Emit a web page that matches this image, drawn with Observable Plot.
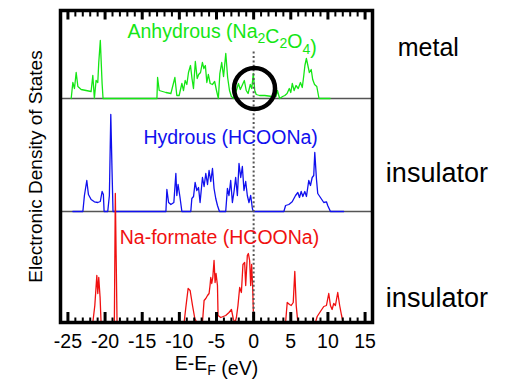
<!DOCTYPE html>
<html><head><meta charset="utf-8">
<script src="https://cdn.jsdelivr.net/npm/d3@7"></script>
<script src="https://cdn.jsdelivr.net/npm/@observablehq/plot@0.6"></script>
<style>body{margin:0;background:#fff}</style>
</head><body><div id="chart"></div>
<script>
// Energy (eV, relative to Fermi level) and DOS (arbitrary units) pairs
const anhydrousDOS = [[-24.56,0],[-24.34,16],[-24.12,10],[-23.89,26],[-23.66,12],[-23.22,9],[-22.55,8],[-21.88,7],[-21.65,23],[-21.44,0],[-21.21,18],[-20.98,16],[-20.85,36],[-20.64,58],[-20.40,15],[-20.27,0],
  [-13.02,0],[-12.93,21],[-12.71,8],[-11.81,6],[-11.14,5],[-10.60,21],[-10.34,3],[-10.03,3],[-9.66,15],[-9.44,8],[-9.22,18],[-8.99,14],[-8.77,26],[-8.50,33],[-8.30,20],[-8.10,10],[-7.85,37],[-7.60,20],[-7.40,24],[-7.15,26],[-6.90,36],[-6.70,30],[-6.50,33],[-6.30,16],[-6.10,24],[-5.85,15],[-5.55,14],[-5.25,17],[-5.00,8],[-4.75,0],[-4.55,25],[-4.30,36],[-4.05,22],[-3.75,45],[-3.50,21],[-3.25,8],[-3.00,2],[-2.65,0],
  [-2.40,6],[-2.05,15],[-1.80,9],[-1.55,13],[-1.25,18],[-1.00,8],[-0.75,5],[-0.45,14],[-0.25,10],[-0.05,25],[0.15,8],[0.35,4],[0.80,3],[1.50,3],[2.50,2],[3.00,2],[3.20,8],[3.50,0],[3.90,2],[4.20,3],[4.50,5],[4.80,10],[5.00,6],[5.20,15],[5.45,8],[5.70,13],[6.00,10],[6.30,16],[6.55,11],[6.75,23],[6.90,33],[7.10,40],[7.30,33],[7.50,26],[7.75,29],[7.95,19],[8.20,14],[8.50,12],[8.80,0],[10.30,0]];

const hydrousDOS = [[-24.34,0],[-22.99,0],[-22.78,16],[-22.46,31],[-22.24,17],[-21.88,12],[-21.44,9.7],[-20.98,9],[-20.64,10],[-20.40,20],[-20.23,17],[-20.13,0],[-19.64,0],[-19.42,16],[-19.23,97],[-19.06,40],[-18.93,0],
  [-11.81,0],[-11.68,22],[-11.45,9],[-11.14,7],[-10.74,9],[-10.47,38],[-10.34,16],[-10.17,27],[-9.93,15],[-9.66,0],[-8.46,0],[-8.32,13],[-8.09,15],[-7.88,29],[-7.65,21],[-7.42,24],[-7.21,9],[-6.89,34],[-6.67,25],[-6.44,38],[-6.21,27],[-6.00,41],[-5.77,30],[-5.54,43],[-5.33,23],[-5.10,13],[-4.87,6],[-4.60,0],
  [-3.76,0],[-3.53,23],[-3.32,16],[-3.09,31],[-2.86,9],[-2.64,20],[-2.42,34],[-2.19,16],[-1.97,48],[-1.74,34],[-1.52,45],[-1.30,21],[-1.07,30],[-0.85,16],[-0.63,9],[-0.40,16],[-0.17,3],[-0.04,0],
  [4.07,0],[4.30,6],[4.74,7],[5.19,9.7],[5.64,16],[5.95,19],[6.17,14],[6.40,20],[6.62,15],[6.89,20],[7.11,15],[7.42,31],[7.65,26],[7.88,34],[8.09,36],[8.23,59],[8.46,32],[8.63,18],[8.99,14],[9.44,9],[9.80,9.7],[9.97,6],[10.34,0],[12.12,0]];

const formateDOS = [[-22.99,0],[-21.65,0],[-21.38,17],[-21.11,47],[-20.98,29],[-20.85,45],[-20.67,25],[-20.54,0],[-18.75,0],[-18.62,129],[-18.39,0],
  [-9.36,0],[-9.13,15],[-8.82,34],[-8.55,32],[-8.23,17],[-7.92,4],[-7.65,0],[-6.89,0],[-6.67,22],[-6.44,24],[-6.21,27],[-6.00,29],[-5.87,37],[-5.77,45],[-5.64,39],[-5.50,45],[-5.33,62],[-5.19,40],[-5.06,49],[-4.87,37],[-4.79,7],[-4.43,5],[-3.76,7],[-3.32,10],[-2.99,13],[-2.72,3],[-2.51,0],
  [-2.32,5],[-2.11,17],[-1.88,35],[-1.65,30],[-1.44,58],[-1.21,60],[-1.07,37],[-0.85,67],[-0.71,69],[-0.54,62],[-0.40,37],[-0.27,58],[-0.13,35],[0.00,0],
  [4.30,0],[4.52,20],[4.83,18],[5.06,17],[5.33,20],[5.54,51],[5.73,17],[5.95,0],[8.32,0],[8.55,6],[8.99,11],[9.44,16],[9.80,17],[10.11,29],[10.34,17],[10.56,13],[10.78,19],[11.01,17],[11.32,30],[11.58,17],[11.81,8],[12.04,0],[14.13,0]];

const seriesNames = ["Anhydrous (Na2C2O4)", "Hydrous (HCOONa)", "Na-formate (HCOONa)"];
const stateLabels = ["metal", "insulator", "insulator"];
const majorTicks = [-25, -20, -15, -10, -5, 0, 5, 10, 15];
const minorTicks = d3.range(-26, 17).filter(v => v % 5 !== 0);

// layout (vertical stacking offsets, label anchors) — not data
const colors = ["#14e614", "#1010ee", "#f01010"];
const offsets = [224, 111, 0];
const titleAnchor = [[-4.25, 67], [-3.1, 73.5], [-4.6, 85]];
const stateAnchor = [[19.4, 51], [17.8, 38], [17.8, 24]];
const stateSize = [25, 27, 27];

const lines = [anhydrousDOS, hydrousDOS, formateDOS].map((arr, i) =>
  Plot.line(arr, {x: d => d[0], y: d => d[1] + offsets[i], stroke: colors[i], strokeWidth: 1.3}));

const font = "'Liberation Sans', Arial, Helvetica, sans-serif";

const plot = Plot.plot({
  width: 514, height: 383,
  marginLeft: 60, marginRight: 142, marginTop: 10, marginBottom: 61,
  x: {domain: [-26, 16]},
  y: {domain: [0, 312], axis: null},
  style: {fontFamily: font, background: "white", color: "black"},
  marks: [
    Plot.ruleY([offsets[0], offsets[1]], {stroke: "#555", strokeWidth: 1.5}),
    ...lines,
    Plot.ruleX([0], {y1: 0, y2: 272, stroke: "#555", strokeWidth: 2, strokeDasharray: "2,2.4"}),
    Plot.dot([[0.12, offsets[0] + 10]], {x: d => d[0], y: d => d[1], r: 20.5, stroke: "black", strokeWidth: 4.5, fill: "none"}),
    Plot.frame({stroke: "black", strokeWidth: 3.5}),
    Plot.ruleX(majorTicks, {x: d => d, insetTop: 302, stroke: "black", strokeWidth: 3}),
    Plot.ruleX(minorTicks, {x: d => d, insetTop: 307.5, stroke: "black", strokeWidth: 2}),
    Plot.ruleX(majorTicks, {x: d => d, insetBottom: 302.5, stroke: "black", strokeWidth: 3}),
    Plot.ruleX(minorTicks, {x: d => d, insetBottom: 305.5, stroke: "black", strokeWidth: 2}),
    Plot.axisX({anchor: "bottom", ticks: majorTicks, tickSize: 0, tickPadding: 12, tickFormat: d => String(d), fontSize: 19.5, label: null}),
    Plot.text(["E-EF (eV)"], {text: d => d, frameAnchor: "bottom", dy: 47, fontSize: 19.5}),
    Plot.text(["Electronic Density of States"], {text: d => d, frameAnchor: "left", textAnchor: "middle", dx: -25, rotate: -90, fontSize: 19}),
    ...seriesNames.map((name, i) => Plot.text([name], {text: d => d, x: () => titleAnchor[i][0], y: () => titleAnchor[i][1] + offsets[i], fill: colors[i], fontSize: 19.5})),
    ...stateLabels.map((name, i) => Plot.text([name], {text: d => d, x: () => stateAnchor[i][0], y: () => stateAnchor[i][1] + offsets[i], textAnchor: "start", fill: "black", fontSize: stateSize[i]}))
  ]
});
document.getElementById("chart").appendChild(plot);

// subscripts (rebuild the text content with tspans)
function subscript(content, parts) {
  d3.select(plot).selectAll("text").filter(function () { return this.textContent === content; }).each(function () {
    const t = d3.select(this);
    t.text(null);
    parts.forEach(([s, sub]) => {
      if (sub) {
        t.append("tspan").attr("font-size", "0.72em").attr("dy", "0.38em").text(s);
        t.append("tspan").attr("dy", "-0.27em").text("");
      } else {
        t.append("tspan").text(s);
      }
    });
  });
}
subscript("Anhydrous (Na2C2O4)", [["Anhydrous (Na"], ["2", 1], ["C"], ["2", 1], ["O"], ["4", 1], [")"]]);
subscript("E-EF (eV)", [["E-E"], ["F", 1], [" (eV)"]]);
</script>
</body></html>
